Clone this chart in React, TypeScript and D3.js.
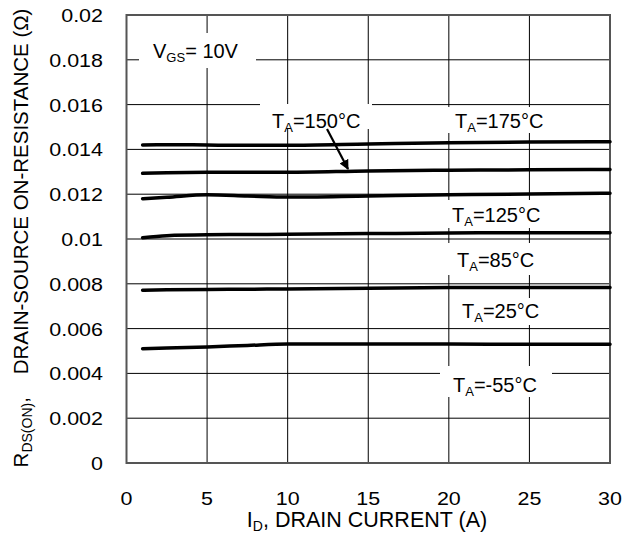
import React from "react";
import * as d3 from "d3";

const current = [1, 2.5, 5, 7.5, 10, 15, 20, 25, 30];
const r175 = [0.0142, 0.01421, 0.0142, 0.01418, 0.01418, 0.01424, 0.0143, 0.01433, 0.01434];
const r150 = [0.01293, 0.01296, 0.01298, 0.01298, 0.01298, 0.01304, 0.01307, 0.01309, 0.0131];
const r125 = [0.0118, 0.01186, 0.01197, 0.01192, 0.01187, 0.01192, 0.01197, 0.01201, 0.01204];
const r85 = [0.01006, 0.01015, 0.01019, 0.0102, 0.01021, 0.01024, 0.01027, 0.01028, 0.01028];
const r25 = [0.00771, 0.00773, 0.00775, 0.00776, 0.00777, 0.0078, 0.00783, 0.00784, 0.00784];
const rm55 = [0.0051, 0.00513, 0.00518, 0.00525, 0.00531, 0.00531, 0.00531, 0.0053, 0.0053];
const seriesList = [r175, r150, r125, r85, r25, rm55];

const xTicks = [0, 5, 10, 15, 20, 25, 30];
const yTicks = [0, 0.002, 0.004, 0.006, 0.008, 0.01, 0.012, 0.014, 0.016, 0.018, 0.02];
const yTickLabels = ["0", "0.002", "0.004", "0.006", "0.008", "0.01", "0.012", "0.014", "0.016", "0.018", "0.02"];

const tempLabels = [
  { t: "175", x: 455, y: 128, box: [447, 107, 106, 26] },
  { t: "150", x: 272, y: 128, box: [260, 104, 112, 25] },
  { t: "125", x: 452, y: 222, box: [445, 200, 105, 28] },
  { t: "85", x: 457, y: 267, box: [448, 243, 100, 32] },
  { t: "25", x: 462, y: 318, box: [452, 298, 96, 27] },
  { t: "-55", x: 453, y: 392, box: [440, 366, 112, 31] },
];

const FONT = "'Liberation Sans', Arial, Helvetica, sans-serif";
const SX = 1.13;

export default function App() {
  const W = 627, H = 542;
  const x = d3.scaleLinear().domain([0, 30]).range([126.5, 610]);
  const y = d3.scaleLinear().domain([0, 0.02]).range([463, 15]);
  const line = d3
    .line<number>()
    .x((_, i) => x(current[i]))
    .y((d) => y(d))
    .curve(d3.curveMonotoneX);

  return (
    <div style={{ position: "fixed", left: 0, top: 0 }}>
      <svg width={W} height={H} style={{ display: "block", background: "#fff" }} fontFamily={FONT}>
        <defs>
          <marker id="ah" viewBox="0 0 10 10" refX="9" refY="5" markerWidth="4.5" markerHeight="4.5" orient="auto">
            <path d="M0,0 L10,5 L0,10 z" fill="#000" />
          </marker>
        </defs>
        {/* grid */}
        {xTicks.slice(1, -1).map((t) => (
          <line key={"gx" + t} x1={x(t)} x2={x(t)} y1={y(0.02)} y2={y(0)} stroke="#000" strokeWidth={1} />
        ))}
        {yTicks.slice(1, -1).map((t) => (
          <line key={"gy" + t} x1={x(0)} x2={x(30)} y1={y(t)} y2={y(t)} stroke="#000" strokeWidth={1} />
        ))}
        {/* label backgrounds */}
        <rect x={139} y={33} width={117} height={35} fill="#fff" />
        {tempLabels.map((l) => (
          <rect key={"b" + l.t} x={l.box[0]} y={l.box[1]} width={l.box[2]} height={l.box[3]} fill="#fff" />
        ))}
        {/* frame */}
        <rect x={x(0)} y={y(0.02)} width={x(30) - x(0)} height={y(0) - y(0.02)} fill="none" stroke="#555" strokeWidth={2} />
        {/* curves */}
        {seriesList.map((s, i) => (
          <path key={"c" + i} d={line(s) || ""} fill="none" stroke="#000" strokeWidth={3.5} strokeLinecap="round" />
        ))}
        {/* y tick labels */}
        {yTicks.map((t, i) => (
          <text
            key={"yt" + t}
            transform={`translate(103,${y(t) + 7}) scale(${SX},1)`}
            textAnchor="end"
            fontSize={19}
            fill="#000"
          >
            {yTickLabels[i]}
          </text>
        ))}
        {/* x tick labels */}
        {xTicks.map((t) => (
          <text
            key={"xt" + t}
            transform={`translate(${x(t)},505) scale(${SX},1)`}
            textAnchor="middle"
            fontSize={19}
            fill="#000"
          >
            {t}
          </text>
        ))}
        {/* annotations */}
        <text x={153} y={58} fontSize={20} fill="#000">
          V<tspan fontSize={13} dy={4}>GS</tspan>
          <tspan dy={-4}>= 10V</tspan>
        </text>
        {tempLabels.map((l) => (
          <text key={"l" + l.t} x={l.x} y={l.y} fontSize={20} fill="#000">
            T<tspan fontSize={13} dy={4}>A</tspan>
            <tspan dy={-4}>={l.t}°C</tspan>
          </text>
        ))}
        <line x1={327} y1={129} x2={348} y2={169} stroke="#000" strokeWidth={2.2} markerEnd="url(#ah)" />
        {/* axis titles */}
        <text x={367} y={527} textAnchor="middle" fontSize={21.5} fill="#000">
          I<tspan fontSize={14} dy={4}>D</tspan>
          <tspan dy={-4}>, DRAIN CURRENT (A)</tspan>
        </text>
        <text transform="translate(28,238) rotate(-90)" textAnchor="middle" fontSize={20.5} fill="#000">
          R<tspan fontSize={14} dy={4}>DS(ON)</tspan>
          <tspan dy={-4} xmlSpace="preserve">,    DRAIN-SOURCE ON-RESISTANCE (Ω)</tspan>
        </text>
      </svg>
    </div>
  );
}
